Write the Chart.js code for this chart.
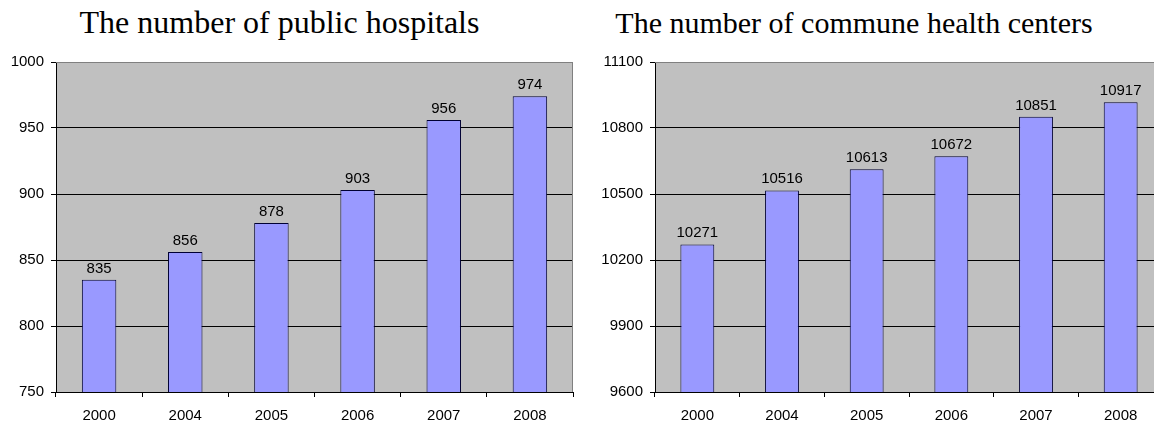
<!DOCTYPE html>
<html>
<head>
<meta charset="utf-8">
<script src="https://cdn.jsdelivr.net/npm/chart.js@4"></script>
<style>
  body { margin: 0; width: 1154px; height: 423px; overflow: hidden; background: #fff; position: relative; }
  .title { position: absolute; font-family: "Liberation Serif", "Times New Roman", serif; text-align: center; color: #000; white-space: nowrap; }
  .box { position: absolute; top: 0; height: 423px; }
</style>
</head>
<body>
<div class="title" style="left:0;width:559px;top:6px;font-size:32px;line-height:32px">The number of public hospitals</div>
<div class="title" style="left:600px;width:508px;top:8px;font-size:30px;line-height:30px">The number of commune health centers</div>
<div class="box" style="left:0;width:592px"><canvas id="grafico1"></canvas></div>
<div class="box" style="left:599px;width:583px"><canvas id="grafico2"></canvas></div>
<script>
const years = ["2000", "2004", "2005", "2006", "2007", "2008"];
const hospitals = [835, 856, 878, 903, 956, 974];
const healthCenters = [10271, 10516, 10613, 10672, 10851, 10917];
const hospitalTicks = [750, 800, 850, 900, 950, 1000];
const centerTicks = [9600, 9900, 10200, 10500, 10800, 11100];

Chart.defaults.color = "#000";
Chart.defaults.font.family = "'Liberation Sans', Arial, sans-serif";
Chart.defaults.font.size = 15;

// fundo cinza da area do grafico, borda e rotulos em cima das barras
const plotArea = {
  id: "plotArea",
  beforeDraw(chart) {
    const a = chart.chartArea;
    const c = chart.ctx;
    c.save();
    c.fillStyle = "#C0C0C0";
    c.fillRect(a.left, a.top, a.right - a.left, a.bottom - a.top);
    c.restore();
  },
  afterDatasetsDraw(chart) {
    const a = chart.chartArea;
    const c = chart.ctx;
    c.save();
    c.strokeStyle = "#808080";
    c.lineWidth = 1;
    c.beginPath();
    c.moveTo(a.left, a.top + 0.5);
    c.lineTo(a.right - 0.5, a.top + 0.5);
    c.lineTo(a.right - 0.5, a.bottom);
    c.stroke();
    c.font = "15px 'Liberation Sans', Arial, sans-serif";
    c.fillStyle = "#000";
    c.textAlign = "center";
    c.textBaseline = "alphabetic";
    const vals = chart.data.datasets[0].data;
    chart.getDatasetMeta(0).data.forEach((bar, i) => {
      c.fillText(vals[i], bar.x, bar.y - 7);
    });
    c.restore();
  },
};

function makeChart(id, values, tickList, rightPad) {
  const top = tickList[tickList.length - 1];
  return new Chart(document.getElementById(id), {
    type: "bar",
    data: {
      labels: years,
      datasets: [
        {
          data: values,
          backgroundColor: "#9999FF",
          borderColor: "#000033",
          borderWidth: 1,
          barPercentage: 0.4,
          categoryPercentage: 1,
        },
      ],
    },
    options: {
      responsive: true,
      maintainAspectRatio: false,
      animation: false,
      layout: { padding: { top: 62, right: rightPad, bottom: 0, left: 0 } },
      plugins: { legend: { display: false }, tooltip: { enabled: false } },
      scales: {
        x: {
          offset: true,
          grid: { offset: true, drawOnChartArea: false, color: "#000", tickLength: 5 },
          border: { color: "#000" },
          ticks: { padding: 10 },
          afterFit: (s) => { s.height = 31; },
        },
        y: {
          min: tickList[0],
          max: top,
          grid: {
            color: (ctx) => (ctx.tick && ctx.tick.value === top ? "#808080" : "#000"),
            tickColor: "#000",
            tickLength: 5,
          },
          border: { color: "#000" },
          ticks: { padding: 7, callback: (v) => String(v) },
          afterBuildTicks: (s) => { s.ticks = tickList.map((v) => ({ value: v })); },
          afterFit: (s) => { s.width = 56; },
        },
      },
    },
    plugins: [plotArea],
  });
}

makeChart("grafico1", hospitals, hospitalTicks, 19);
makeChart("grafico2", healthCenters, centerTicks, 19);
</script>
</body>
</html>
